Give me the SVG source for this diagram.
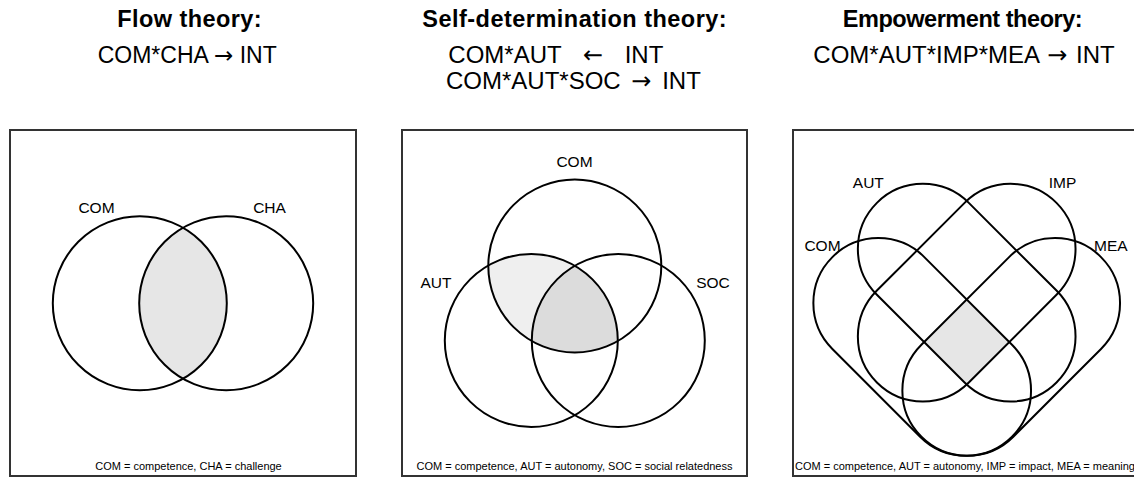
<svg xmlns="http://www.w3.org/2000/svg" xmlns:xlink="http://www.w3.org/1999/xlink" width="1134" height="477" viewBox="0 0 1134 477">
<style>
.title{font-family:"Liberation Sans",Arial,sans-serif;font-weight:bold;font-size:23.5px;fill:#000}
.formula{font-family:"Liberation Sans",Arial,sans-serif;font-size:23px;fill:#000}
.f24{font-size:24px}
.arr{font-family:"DejaVu Sans",sans-serif}
.lab{font-family:"Liberation Sans",Arial,sans-serif;font-size:15.5px;fill:#000;text-anchor:middle}
.foot{font-family:"Liberation Sans",Arial,sans-serif;font-size:11px;fill:#000}
.frame{fill:#fff;stroke:#333;stroke-width:2}
.set{fill:none;stroke:#000;stroke-width:2}
</style>
<defs>
  <circle id="p1COM" cx="139.8" cy="303.3" r="87"/>
  <circle id="p1CHA" cx="226.2" cy="303.3" r="87"/>
  <circle id="p2COM" cx="574.8" cy="266" r="86.5"/>
  <circle id="p2AUT" cx="531.3" cy="340.5" r="86.5"/>
  <circle id="p2SOC" cx="618.3" cy="340.5" r="86.5"/>
  <rect id="p3AUT" x="-127" y="-65" width="254" height="130" rx="65" transform="translate(966.7,292.7) rotate(45)"/>
  <rect id="p3IMP" x="-127" y="-65" width="254" height="130" rx="65" transform="translate(966.7,292.7) rotate(-45)"/>
  <rect id="p3COM" x="-127" y="-65" width="254" height="130" rx="65" transform="translate(922.2,346.9) rotate(45)"/>
  <rect id="p3MEA" x="-127" y="-65" width="254" height="130" rx="65" transform="translate(1011.2,346.9) rotate(-45)"/>
  <clipPath id="c1CHA"><use xlink:href="#p1CHA"/></clipPath>
  <clipPath id="c2AUT"><use xlink:href="#p2AUT"/></clipPath>
  <clipPath id="c2SOC"><use xlink:href="#p2SOC"/></clipPath>
  <clipPath id="c3AUT"><use xlink:href="#p3AUT"/></clipPath>
  <clipPath id="c3IMP"><use xlink:href="#p3IMP"/></clipPath>
  <clipPath id="c3MEA"><use xlink:href="#p3MEA"/></clipPath>
</defs>
<rect x="0" y="0" width="1134" height="477" fill="#fff"/>

<g id="panel-flow">
  <text class="title" x="117.3" y="26.7" textLength="144.4" lengthAdjust="spacing">Flow theory:</text>
  <text class="formula" x="97.7" y="63.3">COM*CHA <tspan class="arr">→</tspan> INT</text>
  <rect class="frame" x="10" y="130" width="346" height="346"/>
  <g clip-path="url(#c1CHA)"><use xlink:href="#p1COM" fill="#e6e6e6"/></g>
  <g id="flow-COM"><use xlink:href="#p1COM" class="set"/><text class="lab" x="96.5" y="212.7">COM</text></g>
  <g id="flow-CHA"><use xlink:href="#p1CHA" class="set"/><text class="lab" x="269.5" y="212.7">CHA</text></g>
  <text class="foot" x="188.5" y="470" text-anchor="middle">COM = competence, CHA = challenge</text>
</g>

<g id="panel-sdt">
  <text class="title" x="422.3" y="26.7" textLength="304.4" lengthAdjust="spacing">Self-determination theory:</text>
  <text class="formula f24" x="448.3" y="63.3" word-spacing="15">COM*AUT <tspan class="arr">←</tspan> INT</text>
  <text class="formula f24" x="446" y="89.3" word-spacing="4">COM*AUT*SOC <tspan class="arr">→</tspan> INT</text>
  <rect class="frame" x="402" y="130" width="345" height="346"/>
  <g clip-path="url(#c2AUT)"><use xlink:href="#p2COM" fill="#efefef"/></g>
  <g clip-path="url(#c2AUT)"><g clip-path="url(#c2SOC)"><use xlink:href="#p2COM" fill="#dcdcdc"/></g></g>
  <g id="sdt-COM"><use xlink:href="#p2COM" class="set"/><text class="lab" x="574.5" y="166.7">COM</text></g>
  <g id="sdt-AUT"><use xlink:href="#p2AUT" class="set"/><text class="lab" x="436" y="288.3">AUT</text></g>
  <g id="sdt-SOC"><use xlink:href="#p2SOC" class="set"/><text class="lab" x="713" y="288.3">SOC</text></g>
  <text class="foot" x="574.5" y="470" text-anchor="middle">COM = competence, AUT = autonomy, SOC = social relatedness</text>
</g>

<g id="panel-emp">
  <text class="title" x="842.7" y="26.7" textLength="240" lengthAdjust="spacing">Empowerment theory:</text>
  <text class="formula f24" x="813.3" y="63.3" word-spacing="2">COM*AUT*IMP*MEA <tspan class="arr">→</tspan> INT</text>
  <rect class="frame" x="793" y="130" width="345" height="346"/>
  <g clip-path="url(#c3AUT)"><g clip-path="url(#c3IMP)"><g clip-path="url(#c3MEA)"><use xlink:href="#p3COM" fill="#e6e6e6"/></g></g></g>
  <g id="emp-COM"><use xlink:href="#p3COM" class="set"/><text class="lab" x="822.5" y="251">COM</text></g>
  <g id="emp-AUT"><use xlink:href="#p3AUT" class="set"/><text class="lab" x="868.3" y="187.7">AUT</text></g>
  <g id="emp-IMP"><use xlink:href="#p3IMP" class="set"/><text class="lab" x="1062.5" y="187.7">IMP</text></g>
  <g id="emp-MEA"><use xlink:href="#p3MEA" class="set"/><text class="lab" x="1110.8" y="251">MEA</text></g>
  <text class="foot" x="795" y="470">COM = competence, AUT = autonomy, IMP = impact, MEA = meaning</text>
</g>
<g id="connectors"/>
</svg>
